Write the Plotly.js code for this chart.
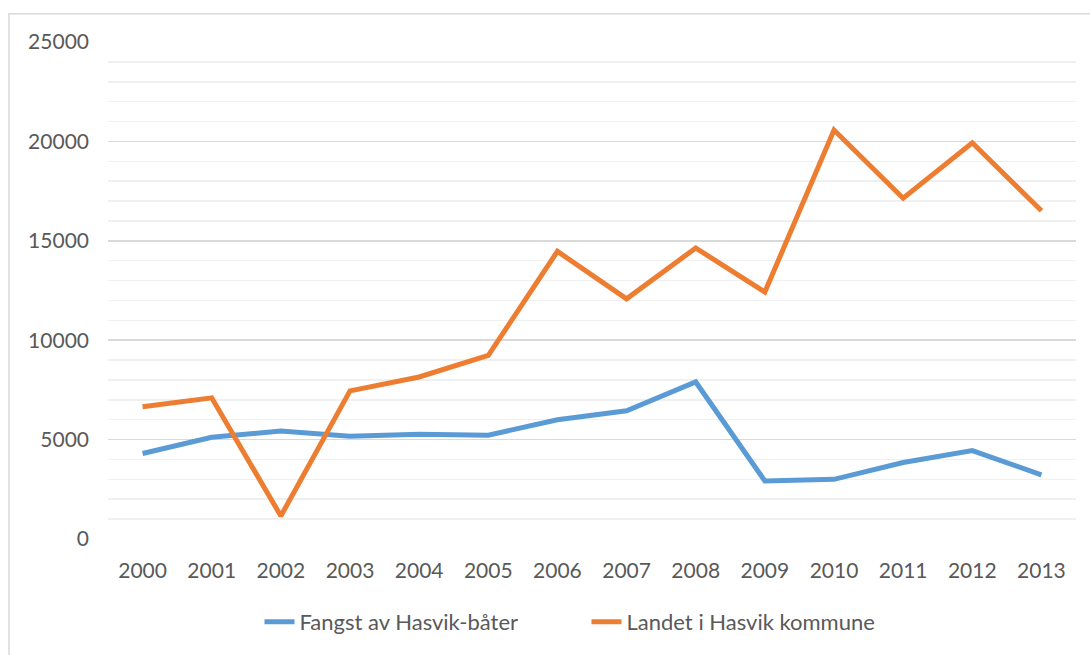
<!DOCTYPE html>
<html>
<head>
<meta charset="utf-8">
<script src="https://cdn.plot.ly/plotly-3.0.1.min.js"></script>
<style>html,body{margin:0;padding:0;background:#fff;}#chart{width:1090px;height:655px;}</style>
</head>
<body>
<div id="chart"></div>
<script>
const years = ["2000","2001","2002","2003","2004","2005","2006","2007","2008","2009","2010","2011","2012","2013"];
const fangst = [4300, 5120, 5430, 5170, 5270, 5220, 6000, 6450, 7900, 2920, 3000, 3850, 4450, 3230];
const landet = [6650, 7100, 1160, 7450, 8150, 9240, 14470, 12080, 14640, 12420, 20570, 17140, 19930, 16510];
const seriesNames = ["Fangst av Hasvik-båter", "Landet i Hasvik kommune"];
const yTicks = [0, 5000, 10000, 15000, 20000, 25000];

const font = "Lato, 'Open Sans', sans-serif";
const traces = [
  {x: years, y: fangst, name: seriesNames[0], type: "scatter", mode: "lines",
   line: {color: "#5B9BD5", width: 5, shape: "linear"}},
  {x: years, y: landet, name: seriesNames[1], type: "scatter", mode: "lines",
   line: {color: "#ED7D31", width: 5, shape: "linear"}}
];
const layout = {
  width: 1090, height: 655,
  margin: {l: 108, r: 14, t: 42, b: 114, pad: 0},
  paper_bgcolor: "#fff", plot_bgcolor: "#fff",
  font: {family: font, size: 21, color: "#595959"},
  showlegend: true,
  legend: {orientation: "h", x: 0.1565, xanchor: "left", y: -0.167, yanchor: "middle",
           font: {family: font, size: 22, color: "#595959"}, traceorder: "normal",
           entrywidth: 282, entrywidthmode: "pixels"},
  xaxis: {type: "category", range: [-0.5, 13.5], showgrid: false, zeroline: false, showline: false, ticks: "",
          ticklabelstandoff: 17, fixedrange: true},
  yaxis: {range: [0, 25000], tickvals: yTicks, ticktext: yTicks.map(String),
          showgrid: true, gridcolor: "#d9d9d9", gridwidth: 1.5,
          minor: {dtick: 1000, showgrid: true, gridcolor: "#f0f0f0", gridwidth: 1.5, ticks: ""},
          zeroline: false, showline: false, ticks: "", ticklabelstandoff: 18, fixedrange: true},
  shapes: [{type: "rect", xref: "paper", yref: "paper", x0: -0.1023, x1: 1.2, y0: -0.4, y1: 1.057,
            line: {color: "#d9d9d9", width: 1.5}, fillcolor: "rgba(0,0,0,0)", layer: "below"}]
};
Plotly.newPlot("chart", traces, layout, {displayModeBar: false, staticPlot: true});
</script>
</body>
</html>
